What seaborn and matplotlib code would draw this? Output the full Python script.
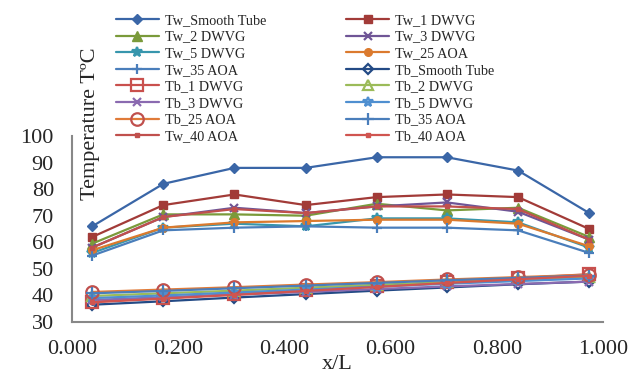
import numpy as np
import pandas as pd
import matplotlib
matplotlib.use("Agg")
import matplotlib.pyplot as plt
import seaborn as sns

# ---------- data ----------
x_over_L = [0.038, 0.172, 0.306, 0.440, 0.574, 0.706, 0.840, 0.974]

tw_smooth = [66, 82, 88, 88, 92, 92, 87, 71]
tw_1dwvg = [62, 74, 78, 74, 77, 78, 77, 65]
tw_2dwvg = [59.5, 70.5, 70.5, 70, 74.5, 72, 73, 62]
tw_3dwvg = [58, 69.5, 73, 71, 73.5, 75, 71.5, 61]
tw_5dwvg = [56, 65.5, 67, 66, 69, 69, 67.5, 58]
tw_25aoa = [57, 65.5, 67.5, 68, 68.5, 68.5, 67, 58.5]
tw_35aoa = [55, 64.5, 65.5, 66, 65.5, 65.5, 64.5, 56]
tw_40aoa = [58, 69.5, 72.5, 71, 73.5, 73.5, 72.5, 61]

tb_smooth = [36.5, 37.8, 39.2, 40.5, 41.8, 43.0, 44.2, 45.2]
tb_1dwvg = [37.6, 39.0, 40.5, 42.0, 43.5, 45.0, 46.5, 48.0]
tb_2dwvg = [39.8, 40.8, 41.8, 42.9, 44.0, 45.0, 46.0, 47.0]
tb_3dwvg = [38.3, 39.3, 40.3, 41.3, 42.4, 43.4, 44.3, 45.2]
tb_5dwvg = [39.0, 40.0, 41.1, 42.2, 43.3, 44.4, 45.4, 46.4]
tb_25aoa = [41.3, 42.2, 43.1, 44.1, 45.0, 46.0, 46.9, 47.8]
tb_35aoa = [40.8, 41.7, 42.7, 43.7, 44.7, 45.7, 46.6, 47.5]
tb_40aoa = [37.4, 38.8, 40.2, 41.7, 43.2, 44.7, 46.1, 47.4]

# legend order as in the reference (row-major, 2 columns)
SERIES = [
    ("Tw_Smooth Tube", tw_smooth, "#3A66A7", "D", 5.5, True),
    ("Tw_1 DWVG", tw_1dwvg, "#A23B38", "s", 5.5, True),
    ("Tw_2 DWVG", tw_2dwvg, "#7A9A3A", "^", 6.5, True),
    ("Tw_3 DWVG", tw_3dwvg, "#6F5596", "x", 6, True),
    ("Tw_5 DWVG", tw_5dwvg, "#3796AD", "*", 7, True),
    ("Tw_25 AOA", tw_25aoa, "#DB7A2E", "o", 5.5, True),
    ("Tw_35 AOA", tw_35aoa, "#4A7EBB", "+", 7, True),
    ("Tb_Smooth Tube", tb_smooth, "#234A85", "D", 5, False),
    ("Tb_1 DWVG", tb_1dwvg, "#C9504D", "s", 8, False),
    ("Tb_2 DWVG", tb_2dwvg, "#9BBB59", "^", 7, False),
    ("Tb_3 DWVG", tb_3dwvg, "#8A6AB0", "x", 6, False),
    ("Tb_5 DWVG", tb_5dwvg, "#4F8FD0", "*", 7, False),
    ("Tb_25 AOA", tb_25aoa, "#E07B39", "o", 9, False),
    ("Tb_35 AOA", tb_35aoa, "#4A7EBB", "+", 9, False),
    ("Tw_40 AOA", tw_40aoa, "#C0504D", "s", 3.5, True),
    ("Tb_40 AOA", tb_40aoa, "#D05550", "s", 3.5, True),
]

# ---------- style ----------
sns.set_style("white")
plt.rcParams["font.family"] = ["Liberation Serif", "DejaVu Serif"]
plt.rcParams["font.size"] = 16

fig = plt.figure(figsize=(6.44, 3.79), dpi=100)
ax = fig.add_axes([72 / 644, 1 - 322 / 379, 531 / 644, 186 / 379])

for name, vals, color, marker, ms, filled in SERIES:
    mec = "#C0504D" if name == "Tb_25 AOA" else color
    sns.lineplot(
        x=x_over_L, y=vals, ax=ax, label=name, color=color,
        linewidth=1.6, marker=marker, markersize=ms,
        markerfacecolor=color if filled else "none",
        markeredgecolor=mec, markeredgewidth=1.6 if marker in "x+*" or not filled else 1.0,
        sort=False,
    )

ax.set_xlim(0, 1)
ax.set_ylim(30, 100)
ax.set_xticks(np.arange(0, 1.01, 0.2))
ax.set_xticklabels([f"{t:.3f}" for t in np.arange(0, 1.01, 0.2)])
ax.set_yticks(range(30, 101, 10))
ax.tick_params(axis="y", length=0, labelsize=16, pad=13)
ax.tick_params(axis="x", length=0, labelsize=16, pad=13)
for s in ["top", "right"]:
    ax.spines[s].set_visible(False)
for s in ["left", "bottom"]:
    ax.spines[s].set_color("#888888")
    ax.spines[s].set_linewidth(1.5)

ax.set_xlabel("x/L", fontsize=16, labelpad=-3)
ax.set_ylabel("Temperature TºC", fontsize=16)
ax.yaxis.set_label_coords((100 - 72) / 531, (322 - 124) / 186)

# legend: reorder handles so ncol=2 reads row by row
handles, labels = ax.get_legend_handles_labels()
ax.get_legend().remove()
order = list(range(0, 16, 2)) + list(range(1, 16, 2))
fig.legend([handles[i] for i in order], [labels[i] for i in order],
           ncol=2, loc="upper left", bbox_to_anchor=(116 / 644, 1 - 14 / 379),
           frameon=False, fontsize=10.3, handlelength=3.0, handletextpad=0.4,
           columnspacing=5.6, labelspacing=0.25, borderpad=0, borderaxespad=0)

fig.savefig("out.png", dpi=100)
